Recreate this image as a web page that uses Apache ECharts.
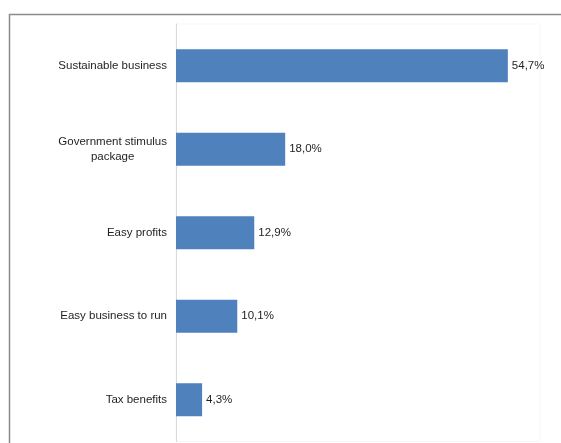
<!DOCTYPE html>
<html>
<head>
<meta charset="utf-8">
<style>
  html, body { margin: 0; padding: 0; background: #ffffff; }
  #chart { width: 561px; height: 443px; }
</style>
<script src="https://cdn.jsdelivr.net/npm/echarts@6/dist/echarts.min.js"></script>
</head>
<body>
<div id="chart"></div>
<script>
// Reasons given, top to bottom
const categories = [
  'Sustainable business',
  'Government stimulus\npackage',
  'Easy profits',
  'Easy business to run',
  'Tax benefits'
];
// Share of respondents, %
const shares = [54.7, 18.0, 12.9, 10.1, 4.3];

const chart = echarts.init(document.getElementById('chart'), null, { renderer: 'canvas' });

const fmtPct = v => v.toFixed(1).replace('.', ',') + '%';
const FONT = 'Liberation Sans, Arial, sans-serif';
const TEXT_COLOR = '#1f1f1f';

chart.setOption({
  animation: false,
  textStyle: { fontFamily: FONT },
  graphic: [
    {
      type: 'rect',
      shape: { x: 9.5, y: 14.5, width: 600, height: 500 },
      style: { fill: 'none', stroke: '#8c8c8c', lineWidth: 1.5 },
      silent: true
    }
  ],
  grid: {
    left: 176,
    right: 21,
    top: 24,
    bottom: 1.5,
    show: true,
    borderColor: '#f7f7f7',
    borderWidth: 1,
    backgroundColor: 'transparent'
  },
  xAxis: {
    type: 'value',
    min: 0,
    max: 60,
    show: false
  },
  yAxis: {
    type: 'category',
    inverse: true,
    data: categories,
    axisLine: { show: true, lineStyle: { color: '#d9d9d9', width: 1 } },
    axisTick: { show: false },
    axisLabel: {
      margin: 9,
      color: TEXT_COLOR,
      fontSize: 11.5,
      lineHeight: 15,
      fontFamily: FONT,
      formatter: v => v.indexOf('\n') >= 0 ? '{c|' + v + '}' : v,
      rich: {
        c: {
          align: 'center',
          color: TEXT_COLOR,
          fontSize: 11.5,
          lineHeight: 15,
          fontFamily: FONT
        }
      }
    }
  },
  series: [
    {
      type: 'bar',
      data: shares,
      barWidth: 33,
      itemStyle: { color: '#4f81bd' },
      label: {
        show: true,
        position: 'right',
        distance: 4,
        color: TEXT_COLOR,
        fontSize: 11.5,
        fontFamily: FONT,
        formatter: p => fmtPct(p.value)
      }
    }
  ]
});
</script>
</body>
</html>
